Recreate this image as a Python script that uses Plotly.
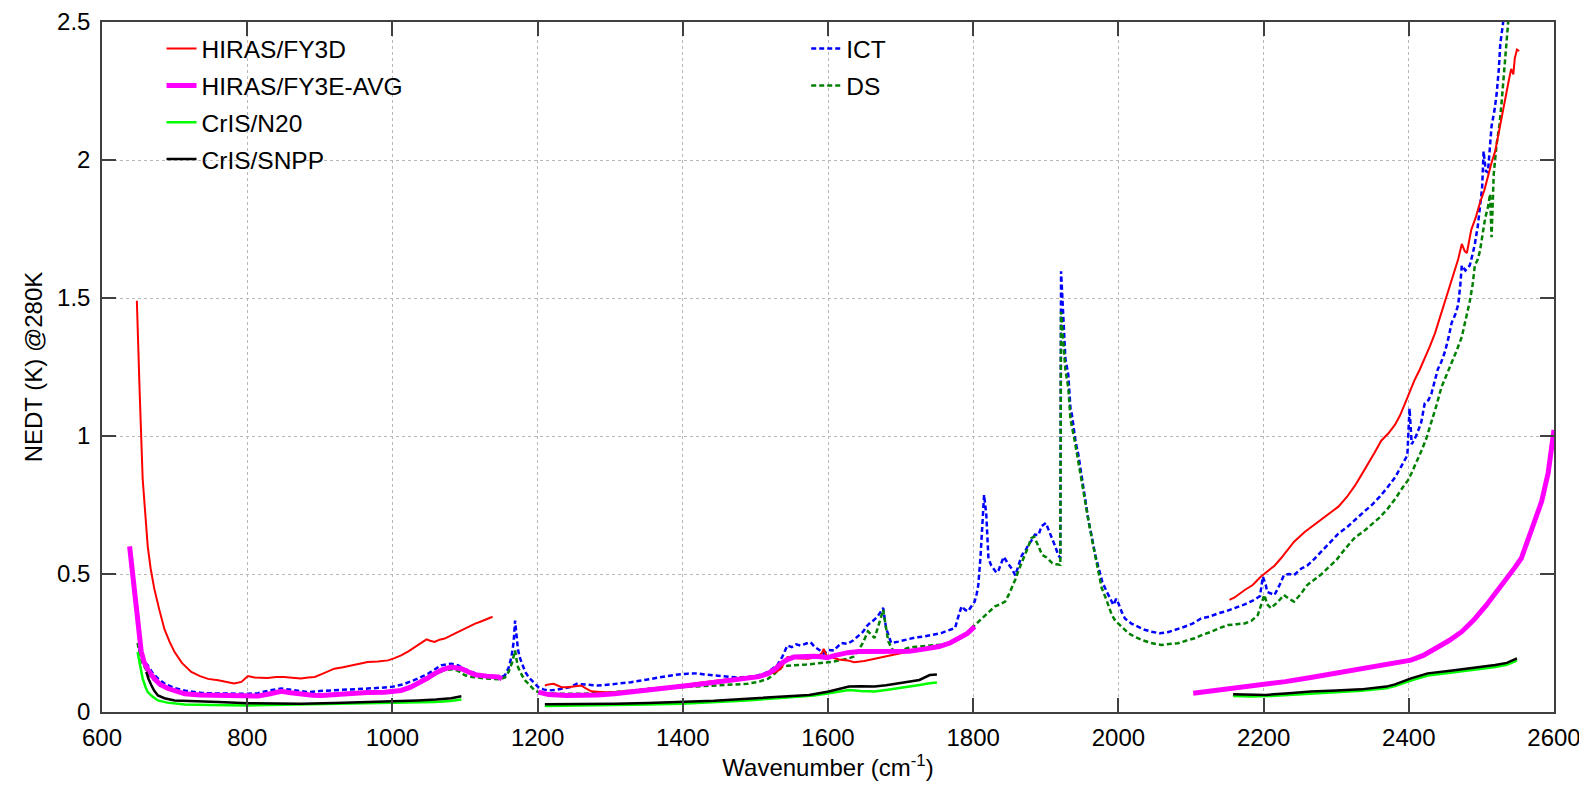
import plotly.graph_objects as go

# ---------------- data ----------------
# HIRAS/FY3D (red), three spectral bands separated by gaps (None)
fy3d_wn = [648, 650, 652, 656, 660, 663, 667, 672, 679, 686, 693, 700, 710, 723, 735, 746, 760, 770, 782, 792,
           801, 810, 828, 840, 851, 862, 874, 884, 893, 905, 920, 932, 943, 955, 966, 980, 994, 1003, 1012, 1022,
           1031, 1040, 1047, 1052, 1058, 1065, 1072, 1083, 1095, 1105, 1114, 1122, 1131, 1138, None,
           1210, 1215, 1222, 1233, 1242, 1251, 1260, 1267, 1274, 1290, 1306, 1330, 1352, 1375, 1398, 1420, 1443,
           1465, 1489, 1512, 1528, 1535, 1540, 1544, 1558, 1572, 1585, 1592, 1594, 1598, 1604, 1615, 1627, 1636,
           1650, 1664, 1677, 1695, 1712, 1728, 1743, 1750, None,
           2153, 2160, 2174, 2185, 2196, 2205, 2215, 2224, 2234, 2242, 2257, 2268, 2280, 2292, 2303, 2315, 2326,
           2335, 2344, 2353, 2362, 2372, 2381, 2388, 2394, 2401, 2408, 2415, 2422, 2429, 2436, 2443, 2450, 2457,
           2463, 2468, 2473, 2477, 2480, 2483, 2486, 2492, 2498, 2504, 2509, 2514, 2519, 2523, 2528, 2533, 2537,
           2541, 2544, 2546, 2549, 2552]
fy3d_nedt = [1.49, 1.30, 1.15, 0.845, 0.70, 0.60, 0.52, 0.447, 0.37, 0.30, 0.255, 0.217, 0.178, 0.145, 0.13, 0.12,
             0.115, 0.11, 0.103, 0.109, 0.13, 0.125, 0.123, 0.127, 0.127, 0.124, 0.121, 0.125, 0.127, 0.14, 0.157,
             0.162, 0.169, 0.175, 0.181, 0.183, 0.187, 0.195, 0.205, 0.22, 0.235, 0.25, 0.263, 0.258, 0.254, 0.262,
             0.266, 0.28, 0.296, 0.31, 0.32, 0.328, 0.338, 0.345, None,
             0.096, 0.10, 0.102, 0.09, 0.09, 0.092, 0.096, 0.085, 0.075, 0.072, 0.072, 0.078, 0.084, 0.09, 0.096,
             0.105, 0.114, 0.12, 0.127, 0.133, 0.145, 0.157, 0.18, 0.199, 0.195, 0.193, 0.198, 0.215, 0.229, 0.205,
             0.199, 0.19, 0.187, 0.18, 0.185, 0.192, 0.2, 0.21, 0.219, 0.228, 0.237, 0.24, None,
             0.406, 0.415, 0.442, 0.46, 0.49, 0.51, 0.53, 0.557, 0.588, 0.617, 0.653, 0.675, 0.698, 0.72, 0.744,
             0.78, 0.821, 0.86, 0.899, 0.94, 0.983, 1.01, 1.041, 1.075, 1.113, 1.16, 1.203, 1.24, 1.281, 1.325,
             1.372, 1.43, 1.488, 1.54, 1.592, 1.64, 1.696, 1.67, 1.663, 1.70, 1.747, 1.79, 1.845, 1.89, 1.942,
             1.99, 2.032, 2.09, 2.149, 2.22, 2.278, 2.33, 2.31, 2.369, 2.40, 2.395]

# HIRAS/FY3E-AVG (magenta)
fy3e_wn = [638, 640, 642, 645, 647, 649, 651, 654, 658, 664, 672, 680, 691, 702, 714, 735, 760, 780, 801, 815, 830,
           847, 860, 874, 890, 902, 920, 943, 965, 989, 1012, 1025, 1035, 1048, 1058, 1070, 1081, 1088, 1095, 1105,
           1114, 1130, 1146, 1151, None,
           1201, 1215, 1240, 1260, 1283, 1306, 1330, 1352, 1375, 1398, 1420, 1443, 1465, 1489, 1505, 1517, 1527,
           1535, 1544, 1553, 1567, 1581, 1590, 1599, 1610, 1627, 1643, 1660, 1680, 1700, 1712, 1730, 1753, 1768,
           1781, 1792, 1802, None,
           2103, 2130, 2161, 2195, 2230, 2265, 2300, 2335, 2369, 2403, 2420, 2438, 2455, 2473, 2490, 2507, 2521,
           2535, 2546, 2555, 2565, 2575, 2583, 2592, 2597, 2600]
fy3e_nedt = [0.60, 0.55, 0.483, 0.41, 0.362, 0.31, 0.266, 0.22, 0.181, 0.15, 0.121, 0.10, 0.085, 0.074, 0.066,
             0.062, 0.060, 0.060, 0.060, 0.058, 0.065, 0.075, 0.07, 0.064, 0.061, 0.06, 0.064, 0.069, 0.071, 0.072,
             0.078, 0.09, 0.103, 0.122, 0.139, 0.155, 0.163, 0.162, 0.157, 0.145, 0.135, 0.13, 0.127, 0.12, None,
             0.072, 0.063, 0.06, 0.06, 0.062, 0.066, 0.072, 0.078, 0.085, 0.093, 0.1, 0.108, 0.114, 0.12, 0.128,
             0.139, 0.155, 0.175, 0.19, 0.199, 0.202, 0.202, 0.2, 0.197, 0.205, 0.215, 0.219, 0.22, 0.218, 0.218,
             0.22, 0.227, 0.237, 0.25, 0.267, 0.285, 0.309, None,
             0.068, 0.076, 0.086, 0.097, 0.11, 0.125, 0.14, 0.155, 0.17, 0.188, 0.205, 0.231, 0.258, 0.291, 0.335,
             0.388, 0.435, 0.484, 0.523, 0.557, 0.633, 0.70, 0.763, 0.867, 0.97, 1.022]

# CrIS/N20 (bright green)
n20_wn = [649, 652, 656, 660, 663, 670, 677, 690, 714, 750, 801, 850, 900, 950, 1012, 1058, 1080, 1095, None,
          1210, 1260, 1306, 1352, 1398, 1443, 1489, 1530, 1560, 1581, 1601, 1615, 1629, 1645, 1664, 1680, 1698,
          1712, 1726, 1740, 1750, None,
          2158, 2182, 2210, 2240, 2270, 2300, 2335, 2369, 2381, 2403, 2426, 2460, 2481, 2500, 2519, 2535, 2549]
n20_nedt = [0.217, 0.17, 0.121, 0.09, 0.072, 0.055, 0.042, 0.034, 0.027, 0.025, 0.024, 0.026, 0.028, 0.031, 0.033,
            0.036, 0.04, 0.045, None,
            0.022, 0.023, 0.025, 0.027, 0.03, 0.035, 0.042, 0.05, 0.056, 0.06, 0.068, 0.075, 0.08, 0.076, 0.074,
            0.08, 0.086, 0.092, 0.098, 0.104, 0.107, None,
            0.058, 0.056, 0.058, 0.063, 0.068, 0.072, 0.077, 0.086, 0.094, 0.114, 0.132, 0.143, 0.15, 0.156,
            0.163, 0.171, 0.186]

# CrIS/SNPP (black)
snpp_wn = [661, 664, 668, 672, 677, 686, 700, 730, 760, 801, 874, 920, 966, 1000, 1035, 1060, 1081, 1095, None,
           1210, 1260, 1306, 1352, 1398, 1443, 1489, 1530, 1558, 1574, 1601, 1629, 1645, 1664, 1680, 1698, 1712,
           1726, 1740, 1750, None,
           2158, 2180, 2203, 2235, 2265, 2300, 2334, 2369, 2381, 2403, 2426, 2460, 2481, 2500, 2519, 2535, 2549]
snpp_nedt = [0.145, 0.12, 0.097, 0.077, 0.06, 0.05, 0.042, 0.038, 0.036, 0.032, 0.03, 0.033, 0.036, 0.038, 0.042,
             0.045, 0.05, 0.057, None,
             0.028, 0.028, 0.03, 0.033, 0.036, 0.041, 0.048, 0.055, 0.06, 0.062, 0.074, 0.092, 0.093, 0.092, 0.097,
             0.104, 0.11, 0.116, 0.134, 0.136, None,
             0.064, 0.063, 0.062, 0.068, 0.074, 0.078, 0.082, 0.092, 0.10, 0.122, 0.14, 0.15, 0.157, 0.163, 0.17,
             0.178, 0.194]

# ICT (blue dashed)
ict_wn = [651, 655, 659, 663, 670, 677, 688, 700, 715, 737, 760, 780, 801, 815, 830, 847, 860, 874, 884, 900, 920,
          940, 966, 985, 999, 1015, 1035, 1050, 1067, 1081, 1090, 1100, 1110, 1123, 1135, 1148, 1155, 1160, 1164,
          1167, 1169, 1171, 1173, 1176, 1180, 1183, 1188, 1192, 1197, 1201, 1208, 1215, 1225, 1233, 1245, 1254,
          1265, 1283, 1300, 1315, 1329, 1345, 1360, 1375, 1390, 1407, 1420, 1430, 1443, 1460, 1475, 1489, 1500,
          1512, 1520, 1530, 1537, 1544, 1550, 1556, 1562, 1570, 1576, 1582, 1588, 1594, 1600, 1608, 1618, 1627,
          1635, 1641, 1648, 1655, 1660, 1664, 1668, 1671, 1676, 1680, 1684, 1687, 1697, 1710, 1720, 1733, 1745,
          1756, 1765, 1775, 1780, 1784, 1789, 1793, 1798, 1802, 1805, 1807, 1810, 1812, 1815, 1818, 1821, 1825,
          1828, 1832, 1835, 1839, 1842, 1848, 1853, 1858, 1862, 1867, 1872, 1876, 1880, 1885, 1890, 1894, 1900,
          1904, 1908, 1913, 1917, 1920, 1921, 1924, 1927, 1931, 1934, 1936, 1941, 1945, 1949, 1954, 1959, 1963,
          1968, 1972, 1978, 1984, 1990, 1993, 1997, 2000, 2005, 2009, 2018, 2027, 2036, 2046, 2057, 2068, 2080,
          2091, 2102, 2114, 2125, 2137, 2148, 2160, 2174, 2187, 2195, 2199, 2203, 2205, 2215, 2222, 2228, 2235,
          2242, 2252, 2260, 2270, 2280, 2292, 2303, 2315, 2326, 2338, 2349, 2360, 2371, 2381, 2390, 2398, 2401,
          2404, 2410, 2417, 2422, 2427, 2431, 2436, 2440, 2445, 2450, 2455, 2459, 2464, 2468, 2471, 2473, 2478,
          2484, 2488, 2491, 2495, 2498, 2501, 2503, 2506, 2509, 2512, 2514, 2518, 2521, 2524, 2526, 2530, 2534]
ict_nedt = [0.23, 0.2, 0.18, 0.169, 0.14, 0.121, 0.10, 0.087, 0.077, 0.069, 0.067, 0.066, 0.066, 0.068, 0.078,
            0.085, 0.08, 0.075, 0.072, 0.076, 0.078, 0.082, 0.085, 0.088, 0.091, 0.1, 0.121, 0.14, 0.169, 0.175,
            0.17, 0.155, 0.145, 0.132, 0.128, 0.125, 0.133, 0.16, 0.2, 0.253, 0.331, 0.27, 0.225, 0.193, 0.165,
            0.145, 0.125, 0.114, 0.1, 0.09, 0.082, 0.078, 0.08, 0.084, 0.09, 0.102, 0.1, 0.096, 0.1, 0.104, 0.108,
            0.115, 0.122, 0.129, 0.135, 0.139, 0.14, 0.136, 0.133, 0.13, 0.125, 0.127, 0.13, 0.139, 0.15, 0.169,
            0.2, 0.241, 0.235, 0.245, 0.241, 0.248, 0.253, 0.235, 0.225, 0.211, 0.225, 0.223, 0.25, 0.247, 0.26,
            0.274, 0.29, 0.316, 0.325, 0.335, 0.345, 0.359, 0.377, 0.304, 0.27, 0.25, 0.255, 0.262, 0.27, 0.274,
            0.28, 0.286, 0.295, 0.304, 0.35, 0.383, 0.37, 0.365, 0.385, 0.40, 0.43, 0.46, 0.56, 0.655, 0.787,
            0.715, 0.556, 0.53, 0.52, 0.505, 0.514, 0.54, 0.562, 0.538, 0.52, 0.495, 0.53, 0.568, 0.585, 0.606,
            0.62, 0.643, 0.641, 0.673, 0.685, 0.66, 0.63, 0.6, 0.57, 0.557, 1.597, 1.42, 1.28, 1.222, 1.10, 1.077,
            0.98, 0.93, 0.86, 0.78, 0.69, 0.64, 0.57, 0.53, 0.47, 0.436, 0.40, 0.388, 0.41, 0.394, 0.36, 0.339,
            0.32, 0.309, 0.298, 0.291, 0.285, 0.289, 0.298, 0.309, 0.32, 0.339, 0.345, 0.357, 0.365, 0.376, 0.39,
            0.406, 0.42, 0.49, 0.46, 0.435, 0.424, 0.46, 0.496, 0.5, 0.496, 0.52, 0.53, 0.555, 0.582, 0.615, 0.646,
            0.67, 0.698, 0.725, 0.75, 0.78, 0.815, 0.85, 0.892, 0.93, 1.1, 0.97, 1.0, 1.048, 1.119, 1.13, 1.152,
            1.2, 1.242, 1.27, 1.307, 1.36, 1.41, 1.44, 1.475, 1.55, 1.618, 1.6, 1.618, 1.66, 1.696, 1.76, 1.825,
            1.9, 2.032, 1.96, 1.955, 2.05, 2.123, 2.18, 2.24, 2.33, 2.42, 2.5, 2.6]

# DS (dark green dashed)
ds_wn = [649, 652, 656, 660, 665, 672, 680, 690, 700, 715, 737, 760, 780, 801, 815, 830, 847, 860, 874, 890, 902,
         920, 943, 966, 989, 1012, 1025, 1035, 1048, 1058, 1070, 1081, 1090, 1100, 1110, 1123, 1135, 1148, 1155,
         1160, 1165, 1169, 1171, 1173, 1178, 1183, 1190, 1196, 1203, 1210, 1230, 1260, 1283, 1306, 1330, 1352,
         1375, 1398, 1420, 1443, 1465, 1489, 1505, 1517, 1527, 1535, 1545, 1558, 1570, 1581, 1592, 1604, 1615,
         1627, 1635, 1641, 1648, 1655, 1660, 1664, 1668, 1672, 1676, 1679, 1683, 1688, 1692, 1700, 1710, 1720,
         1733, 1745, 1756, 1765, 1775, 1784, 1793, 1802, 1812, 1821, 1830, 1837, 1844, 1849, 1853, 1858, 1862,
         1867, 1871, 1876, 1880, 1884, 1890, 1895, 1901, 1909, 1915, 1920, 1921, 1924, 1927, 1931, 1934, 1940,
         1945, 1949, 1954, 1959, 1964, 1968, 1973, 1977, 1983, 1991, 1996, 2002, 2008, 2014, 2023, 2032, 2045,
         2059, 2070, 2082, 2093, 2105, 2116, 2128, 2140, 2151, 2163, 2174, 2183, 2192, 2201, 2205, 2210, 2220,
         2228, 2235, 2242, 2252, 2260, 2270, 2280, 2289, 2300, 2312, 2326, 2338, 2349, 2360, 2371, 2382, 2392,
         2399, 2404, 2410, 2417, 2424, 2431, 2438, 2445, 2452, 2459, 2466, 2473, 2478, 2484, 2488, 2491, 2495,
         2498, 2501, 2505, 2509, 2512, 2514, 2517, 2521, 2525, 2528, 2532, 2537, 2540]
ds_nedt = [0.25, 0.21, 0.175, 0.155, 0.135, 0.115, 0.098, 0.085, 0.076, 0.068, 0.062, 0.059, 0.058, 0.057, 0.058,
           0.066, 0.074, 0.069, 0.064, 0.062, 0.062, 0.065, 0.069, 0.071, 0.073, 0.078, 0.088, 0.1, 0.118, 0.135,
           0.15, 0.155, 0.15, 0.133, 0.127, 0.123, 0.12, 0.118, 0.125, 0.145, 0.18, 0.223, 0.19, 0.163, 0.135,
           0.114, 0.095, 0.078, 0.07, 0.066, 0.066, 0.066, 0.069, 0.072, 0.078, 0.084, 0.087, 0.09, 0.092, 0.094,
           0.098, 0.102, 0.11, 0.12, 0.14, 0.163, 0.168, 0.169, 0.172, 0.175, 0.178, 0.181, 0.187, 0.193, 0.2,
           0.22, 0.25, 0.292, 0.28, 0.268, 0.3, 0.34, 0.37, 0.32, 0.256, 0.23, 0.214, 0.222, 0.232, 0.236, 0.24,
           0.242, 0.244, 0.25, 0.256, 0.27, 0.292, 0.315, 0.34, 0.36, 0.383, 0.39, 0.40, 0.425, 0.449, 0.48, 0.51,
           0.54, 0.57, 0.6, 0.63, 0.635, 0.6, 0.569, 0.56, 0.539, 0.535, 0.533, 1.45, 1.343, 1.24, 1.174, 1.06,
           0.98, 0.9, 0.836, 0.77, 0.69, 0.62, 0.57, 0.5, 0.449, 0.41, 0.351, 0.33, 0.315, 0.3, 0.285, 0.272,
           0.261, 0.25, 0.243, 0.246, 0.249, 0.258, 0.267, 0.28, 0.291, 0.305, 0.315, 0.318, 0.321, 0.33, 0.351,
           0.424, 0.39, 0.376, 0.4, 0.424, 0.41, 0.4, 0.43, 0.46, 0.48, 0.5, 0.523, 0.55, 0.59, 0.633, 0.655,
           0.679, 0.705, 0.737, 0.775, 0.815, 0.84, 0.867, 0.9, 0.944, 0.99, 1.048, 1.11, 1.177, 1.22, 1.268, 1.31,
           1.359, 1.42, 1.488, 1.55, 1.618, 1.64, 1.67, 1.72, 1.786, 1.83, 1.877, 1.72, 1.95, 2.058, 2.13, 2.214,
           2.356, 2.5, 2.6]

x_ticks = [600, 800, 1000, 1200, 1400, 1600, 1800, 2000, 2200, 2400, 2600]
x_tick_labels = ["600", "800", "1000", "1200", "1400", "1600", "1800", "2000", "2200", "2400", "2600"]
y_ticks = [0, 0.5, 1, 1.5, 2, 2.5]
y_tick_labels = ["0", "0.5", "1", "1.5", "2", "2.5"]

# ---------------- figure ----------------
FONT = "Liberation Sans, Arial, Helvetica, sans-serif"
fig = go.Figure()

fig.add_trace(go.Scatter(x=ict_wn, y=ict_nedt, mode="lines", name="ICT", legend="legend2",
                         legendgroup="ict", line=dict(color="#0000ff", width=2.5, dash="5px,3px")))
fig.add_trace(go.Scatter(x=ds_wn, y=ds_nedt, mode="lines", name="DS", legend="legend2",
                         legendgroup="ds", line=dict(color="#008000", width=2.5, dash="5px,3px")))
fig.add_trace(go.Scatter(x=fy3d_wn, y=fy3d_nedt, mode="lines", name="HIRAS/FY3D", legend="legend",
                         legendgroup="fy3d", line=dict(color="#ff0000", width=2)))
fig.add_trace(go.Scatter(x=fy3e_wn, y=fy3e_nedt, mode="lines", name="HIRAS/FY3E-AVG", legend="legend",
                         legendgroup="fy3e", line=dict(color="#ff00ff", width=5)))
fig.add_trace(go.Scatter(x=n20_wn, y=n20_nedt, mode="lines", name="CrIS/N20", legend="legend",
                         legendgroup="n20", line=dict(color="#00ff00", width=2.5)))
fig.add_trace(go.Scatter(x=snpp_wn, y=snpp_nedt, mode="lines", name="CrIS/SNPP", legend="legend",
                         legendgroup="snpp", line=dict(color="#000000", width=2.5)))

axis_common = dict(
    showline=True, linecolor="#404040", linewidth=1.5, mirror="allticks",
    ticks="inside", ticklen=14, tickwidth=1.5, tickcolor="#404040",
    showgrid=True, gridcolor="#b8b8b8", griddash="dot", gridwidth=1,
    zeroline=False, automargin=False, ticklabeloverflow="allow",
    tickfont=dict(family=FONT, size=24, color="#000000"),
)

fig.update_layout(
    width=1587, height=787,
    margin=dict(l=94, r=41, t=14, b=83),
    paper_bgcolor="white", plot_bgcolor="white",
    font=dict(family=FONT, size=24, color="#000000"),
    xaxis=dict(range=[600, 2600], tickvals=x_ticks, ticktext=x_tick_labels,
               ticklabelstandoff=3,
               title=dict(text="Wavenumber (cm<sup>-1</sup>)", font=dict(family=FONT, size=24), standoff=6),
               **axis_common),
    yaxis=dict(range=[0, 2.5], tickvals=y_ticks, ticktext=y_tick_labels,
               ticklabelstandoff=5,
               title=dict(text="NEDT (K) @280K", font=dict(family=FONT, size=24), standoff=8),
               **axis_common),
    legend=dict(x=0.041, y=0.994, xanchor="left", yanchor="top", bgcolor="rgba(0,0,0,0)",
                font=dict(family=FONT, size=24.5), tracegroupgap=2, borderwidth=0),
    legend2=dict(x=0.485, y=0.994, xanchor="left", yanchor="top", bgcolor="rgba(0,0,0,0)",
                 font=dict(family=FONT, size=24.5), tracegroupgap=2, borderwidth=0),
    showlegend=True,
)

fig.write_html("out.html")
